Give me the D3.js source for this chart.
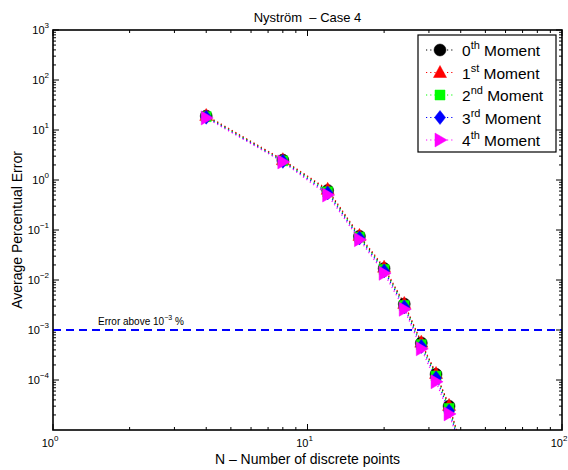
<!DOCTYPE html>
<html>
<head>
<meta charset="utf-8">
<script src="https://cdn.jsdelivr.net/npm/d3@7"></script>
<style>
  body { margin: 0; background: #fff; }
  svg { display: block; font-family: "Liberation Sans", Arial, Helvetica, sans-serif; }
  text { white-space: pre; }
</style>
</head>
<body>
<svg id="chart" width="568" height="470"></svg>
<script>
// Number of discrete points used in the quadrature
const nPoints = [4, 8, 12, 16, 20, 24, 28, 32, 36, 40];

// Average percentual error for each moment
const moment0 = [19.0, 2.50, 0.62, 0.075, 0.0170, 0.0033, 0.00055, 0.000130, 0.000030, 0.0000052];
const moment1 = [19.5, 2.55, 0.65, 0.078, 0.0180, 0.0034, 0.00057, 0.000135, 0.000031, 0.0000054];
const moment2 = [18.5, 2.42, 0.58, 0.072, 0.0162, 0.0031, 0.00051, 0.000120, 0.000027, 0.0000049];
const moment3 = [18.0, 2.36, 0.55, 0.069, 0.0152, 0.0029, 0.00047, 0.000110, 0.000024, 0.0000046];
const moment4 = [17.4, 2.30, 0.50, 0.064, 0.0136, 0.0026, 0.00042, 0.000092, 0.000021, 0.0000042];

const seriesNames = [["0", "th"], ["1", "st"], ["2", "nd"], ["3", "rd"], ["4", "th"]];
const seriesData = [moment0, moment1, moment2, moment3, moment4];
const seriesColors = ["#000000", "#ff0000", "#00ff00", "#0000ff", "#ff00ff"];
const seriesShapes = ["circle", "triUp", "square", "diamond", "triRight"];

const xTicks = [1, 10, 100];
const yTicks = [1e-4, 1e-3, 1e-2, 1e-1, 1, 10, 100, 1000];
const threshold = 1e-3;

const svg = d3.select("#chart");
const m = { left: 53, right: 562, top: 30, bottom: 430 };

const x = d3.scaleLog().domain([1, 100]).range([m.left, m.right]);
const y = d3.scaleLog().domain([1e-5, 1e3]).range([m.bottom, m.top]);

svg.append("defs").append("clipPath").attr("id", "plotClip")
  .append("rect")
  .attr("x", m.left).attr("y", m.top)
  .attr("width", m.right - m.left).attr("height", m.bottom - m.top);

// minor and major ticks on all four sides, pointing inward
function minorValues(lo, hi) {
  const out = [];
  for (let e = lo; e < hi; e++) {
    for (let k = 2; k <= 9; k++) out.push(k * Math.pow(10, e));
  }
  return out;
}
const tickG = svg.append("g").attr("stroke", "#000").attr("stroke-width", 1);
const xMinor = minorValues(0, 2);
const yMinor = minorValues(-5, 3);
xMinor.forEach(v => {
  tickG.append("line").attr("x1", x(v)).attr("x2", x(v)).attr("y1", m.bottom).attr("y2", m.bottom - 3);
  tickG.append("line").attr("x1", x(v)).attr("x2", x(v)).attr("y1", m.top).attr("y2", m.top + 3);
});
xTicks.forEach(v => {
  tickG.append("line").attr("x1", x(v)).attr("x2", x(v)).attr("y1", m.bottom).attr("y2", m.bottom - 6);
  tickG.append("line").attr("x1", x(v)).attr("x2", x(v)).attr("y1", m.top).attr("y2", m.top + 6);
});
yMinor.forEach(v => {
  tickG.append("line").attr("x1", m.left).attr("x2", m.left + 3).attr("y1", y(v)).attr("y2", y(v));
  tickG.append("line").attr("x1", m.right).attr("x2", m.right - 3).attr("y1", y(v)).attr("y2", y(v));
});
yTicks.forEach(v => {
  tickG.append("line").attr("x1", m.left).attr("x2", m.left + 6).attr("y1", y(v)).attr("y2", y(v));
  tickG.append("line").attr("x1", m.right).attr("x2", m.right - 6).attr("y1", y(v)).attr("y2", y(v));
});

// threshold line
svg.append("line")
  .attr("x1", m.left).attr("x2", m.right)
  .attr("y1", y(threshold)).attr("y2", y(threshold))
  .attr("stroke", "#0000ff").attr("stroke-width", 2)
  .attr("stroke-dasharray", "8,5");

const note = svg.append("text")
  .attr("x", 98).attr("y", y(threshold) - 5)
  .attr("font-size", 10).attr("fill", "#000");
note.append("tspan").text("Error above 10");
note.append("tspan").attr("font-size", 7).attr("dy", -5).text("\u22123");
note.append("tspan").attr("dy", 5).text(" %");

// marker shapes
function markerPath(shape) {
  switch (shape) {
    case "circle": return d3.symbol(d3.symbolCircle, 113)();
    case "triUp": return "M0,-7L6.5,5L-6.5,5Z";
    case "square": return "M-5,-5H5V5H-5Z";
    case "diamond": return "M0,-7L5.5,0L0,7L-5.5,0Z";
    case "triRight": return "M-5,-7L7,0L-5,7Z";
  }
}

const plot = svg.append("g").attr("clip-path", "url(#plotClip)");
const line = d3.line().x((d, i) => x(nPoints[i])).y(d => y(d));

seriesData.forEach((vals, s) => {
  plot.append("path")
    .datum(vals)
    .attr("d", line)
    .attr("fill", "none")
    .attr("stroke", seriesColors[s])
    .attr("stroke-width", 1.2)
    .attr("stroke-dasharray", "1.2,3");
});
seriesData.forEach((vals, s) => {
  plot.selectAll(null).data(vals).enter()
    .append("path")
    .attr("d", markerPath(seriesShapes[s]))
    .attr("transform", (d, i) => `translate(${x(nPoints[i])},${y(d)})`)
    .attr("fill", seriesColors[s])
    .attr("stroke", seriesColors[s])
    .attr("stroke-width", 0.5);
});

// frame
svg.append("rect")
  .attr("x", m.left).attr("y", m.top)
  .attr("width", m.right - m.left).attr("height", m.bottom - m.top)
  .attr("fill", "none").attr("stroke", "#000").attr("stroke-width", 1.6);

// tick labels
function powerLabel(g, exp, px, py, anchor) {
  const t = g.append("text").attr("x", px).attr("y", py)
    .attr("font-size", 11).attr("text-anchor", anchor).attr("fill", "#000");
  t.append("tspan").text("10");
  t.append("tspan").attr("font-size", 8).attr("dy", -6)
    .text(exp < 0 ? "\u2212" + (-exp) : String(exp));
}
const labG = svg.append("g");
xTicks.forEach(v => powerLabel(labG, Math.round(Math.log10(v)), x(v) - 3, m.bottom + 17, "middle"));
yTicks.forEach(v => powerLabel(labG, Math.round(Math.log10(v)), m.left - 4, y(v) + 4, "end"));

// title and axis labels
svg.append("text")
  .attr("x", (m.left + m.right) / 2).attr("y", 22)
  .attr("text-anchor", "middle").attr("font-size", 13)
  .text("Nyström  \u2013 Case 4");
svg.append("text")
  .attr("x", (m.left + m.right) / 2).attr("y", 464)
  .attr("text-anchor", "middle").attr("font-size", 14)
  .text("N \u2013 Number of discrete points");
svg.append("text")
  .attr("transform", `translate(22,${(m.top + m.bottom) / 2}) rotate(-90)`)
  .attr("text-anchor", "middle").attr("font-size", 14)
  .text("Average Percentual Error");

// legend
const lg = svg.append("g");
lg.append("rect")
  .attr("x", 418).attr("y", 35).attr("width", 138).attr("height", 117)
  .attr("fill", "#fff").attr("stroke", "#000").attr("stroke-width", 1.2);
seriesNames.forEach((nm, s) => {
  const cy = 50 + s * 22.5;
  lg.append("line")
    .attr("x1", 426).attr("x2", 454).attr("y1", cy).attr("y2", cy)
    .attr("stroke", seriesColors[s]).attr("stroke-width", 1.2)
    .attr("stroke-dasharray", "1.2,3");
  lg.append("path")
    .attr("d", markerPath(seriesShapes[s]))
    .attr("transform", `translate(440,${cy})`)
    .attr("fill", seriesColors[s]).attr("stroke", seriesColors[s]).attr("stroke-width", 0.5);
  const t = lg.append("text").attr("x", 462).attr("y", cy + 6).attr("font-size", 15.5);
  t.append("tspan").text(nm[0]);
  t.append("tspan").attr("font-size", 11).attr("dy", -7).text(nm[1]);
  t.append("tspan").attr("dy", 7).text(" Moment");
});
</script>
</body>
</html>
